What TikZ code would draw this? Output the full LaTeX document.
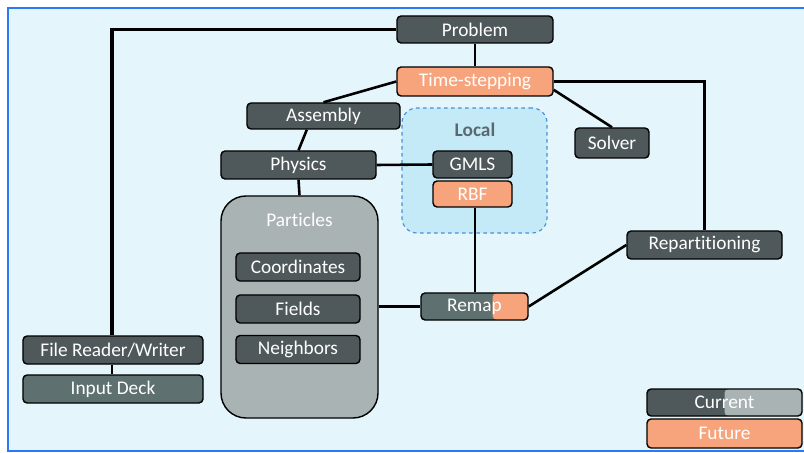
\documentclass[tikz,border=0pt]{standalone}
\usepackage{fontspec}
\setmainfont[Ligatures=NoCommon]{Carlito}
\usetikzlibrary{calc}

\definecolor{slatedark}{RGB}{79,89,91}
\definecolor{slatemid}{RGB}{95,112,112}
\definecolor{futureorange}{RGB}{247,164,124}
\definecolor{particlegray}{RGB}{170,179,179}
\definecolor{bgblue}{RGB}{228,245,252}
\definecolor{frameblue}{RGB}{42,122,245}
\definecolor{localfill}{RGB}{196,234,248}
\definecolor{localedge}{RGB}{74,143,214}
\definecolor{localtext}{RGB}{90,105,112}

\begin{document}
\begin{tikzpicture}[x=0.03cm, y=-0.03cm,
    block/.style={draw=black, line width=1.2pt, rounded corners=3.5pt, fill=slatedark,
        text=white, inner sep=0pt, minimum height=0.84cm, font=\fontsize{16.5}{20}\selectfont},
    futurebox/.style={block, fill=futureorange},
    splitfill/.style 2 args={path picture={
        \fill[#1] ($(path picture bounding box.south west)!#2!(path picture bounding box.south east)$)
            rectangle (path picture bounding box.north east);}},
    link/.style={draw=black, line width=2.2pt},
    longlink/.style={draw=black, line width=3pt}
  ]
    \useasboundingbox (0,0) rectangle (804,453);
    \fill[white] (0,0) rectangle (804,453);
    \draw[draw=frameblue, fill=bgblue, line width=1.8pt] (8,8) rectangle (815,451);

    % local methods group
    \node[draw=localedge, dashed, line width=1pt, fill=localfill, rounded corners=0.45cm,
          minimum width=4.35cm, minimum height=3.75cm] (local) at (474.5,170.5) {};
    \node[font=\fontsize{16.5}{20}\selectfont\bfseries, text=localtext] (locallbl) at (475,130) {Local};

    \node[block, minimum width=4.68cm, minimum height=0.81cm] (problem) at (475,29.5) {Problem};
    \node[futurebox, minimum width=4.68cm, minimum height=0.87cm] (timestep) at (475,81.5) {Time-stepping};
    \node[block, minimum width=4.59cm, minimum height=0.78cm] (assembly) at (323.5,116) {Assembly};
    \node[block, minimum width=4.65cm] (physics) at (298.5,165) {Physics};
    \node[block, minimum width=2.37cm, minimum height=0.81cm] (gmls) at (472.5,164.5) {GMLS};
    \node[futurebox, minimum width=2.37cm, minimum height=0.78cm] (rbf) at (472.5,194) {RBF};
    \node[block, minimum width=2.22cm, minimum height=0.9cm] (solver) at (612,143) {Solver};
    \node[block, minimum width=4.65cm] (repart) at (704.5,245) {Repartitioning};
    \node[block, fill=slatemid, splitfill={futureorange}{0.67}, minimum width=3.21cm,
          minimum height=0.81cm] (remap) at (474.5,306.5) {Remap};

    % particle container
    \node[draw=black, line width=1.2pt, fill=particlegray, rounded corners=0.75cm,
          minimum width=4.71cm, minimum height=6.66cm] (particles) at (299.5,307) {};
    \node[text=white, font=\fontsize{16.5}{20}\selectfont] (partlbl) at (299.5,220) {Particles};
    \node[block, minimum width=3.72cm] (coords) at (298,267) {Coordinates};
    \node[block, minimum width=3.72cm] (fields) at (298,309) {Fields};
    \node[block, minimum width=3.72cm] (neighbors) at (298,349.5) {Neighbors};

    \node[block, minimum width=5.4cm] (filerw) at (113,350) {File Reader/Writer};
    \node[block, fill=slatemid, minimum width=5.4cm] (deck) at (113,389) {Input Deck};

    % legend
    \node[block, splitfill={particlegray}{0.5}, minimum width=4.65cm, minimum height=0.81cm] (current) at (724.5,402.5) {Current};
    \node[futurebox, minimum width=4.65cm, minimum height=0.87cm] (future) at (724.5,433.5) {Future};

    \draw[longlink] (problem.west) -| ([xshift=-0.03cm]filerw.north);
    \draw[link] (problem.south) -- (timestep.north);
    \draw[link] (timestep.west) -- (assembly.north);
    \draw[link] ([xshift=-0.5cm]assembly.south) -- (physics.north);
    \draw[link] (physics.south) -- (particles.north);
    \draw[link] (physics.east) -- (gmls.west);
    \draw[link] ([xshift=0.07cm]rbf.south) -- ([xshift=0.07cm]rbf.south |- remap.north);
    \draw[link] (remap.west -| particles.east) -- (remap.west);
    \draw[link] ([yshift=-0.25cm]timestep.east) -- (solver.north);
    \draw[longlink] (timestep.east) -| (repart.north);
    \draw[link] (repart.west) -- (remap.east);
    \draw[link] ([xshift=-0.03cm]filerw.south) -- ([xshift=-0.03cm]deck.north);
\end{tikzpicture}
\end{document}
